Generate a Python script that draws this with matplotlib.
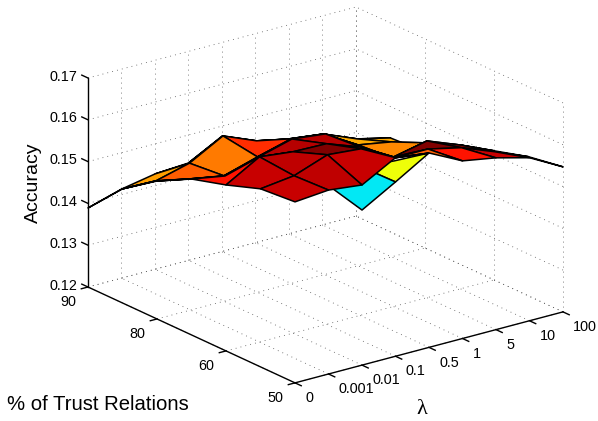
import numpy as np
import matplotlib
matplotlib.use('Agg')
import matplotlib.pyplot as plt
from mpl_toolkits.mplot3d import proj3d

plt.rcParams['font.family'] = ['Liberation Sans', 'DejaVu Sans']

lambda_labels = ['0', '0.001', '0.01', '0.1', '0.5', '1', '5', '10', '100']
trust_labels = ['50', '60', '80', '90']
z_ticks = [0.12, 0.13, 0.14, 0.15, 0.16, 0.17]

# accuracy, back row (90) first
accuracy = np.array([
    [.1389, .1413, .1428, .1433, .1476, .1443, .1427, .1417, .1384],
    [.1473, .1471, .1492, .1536, .1503, .1486, .1477, .1444, .1425],
    [.1530, .1514, .1500, .1524, .1546, .1536, .1489, .1475, .1430],
    [.1573, .1559, .1583, .1605, .1596, .1544, .1496, .1511, .1485],
    [.1597, .1643, .1634, .1632, .1603, .1558, .1575, .1544, .1509],
    [.1626, .1636, .1665, .1658, .1615, .1615, .1597, .1566, .1533],
    [.1633, .1640, .1631, .1675, .1665, .1625, .1611, .1590, .1547],
])
# colour level of each face in the jet map
face_levels = np.array([
    [.75, .74, .75, .75, .75, .75, .75, .75],
    [.80, .81, .78, .86, .80, .75, .73, .73],
    [.85, .85, .85, .85, .85, .765, .765, .78],
    [.89, .89, .95, .95, .95, .80, .985, .985],
    [.934, .945, 1.0, .90, .88, 1.0, .985, .95],
    [.934, .945, .934, .84, .805, .89, .934, .86],
])
# the low part behind the front edge
dip_accuracy = np.array([
    [.1593, .1615, .1608],
    [.1571, .1617, .1665],
])
dip_levels = np.array([[.355, .638, .638], [.355, .638, .638]])

W, H = 598, 421
fig = plt.figure(figsize=(W / 100, H / 100), dpi=100)
ax = fig.add_axes([.1, .1, .8, .8], projection='3d')
ax.set_proj_type('ortho')
ax.view_init(elev=20.5, azim=232.9)
ax.computed_zorder = False
ax.set_xlim(0, 8, view_margin=0)
ax.set_ylim(0, 3, view_margin=0)
ax.set_zlim(.12, .17, view_margin=0)
ax.set_axis_off()


def to_px(x, y, z):
    fig.canvas.draw()
    x2, y2, _ = proj3d.proj_transform(x, y, z, ax.get_proj())
    return ax.transData.transform((x2, y2))


def label(x, y, z, s, ha):
    p = to_px(x, y, z)
    fig.text(p[0] / W, p[1] / H, s, ha=ha, va='center', fontsize=10.4)


# put the box where it sits in the original
ax.set_box_aspect((335.8, 343, 223), zoom=1)
d = to_px(8, 0, .12)[0] - to_px(0, 3, .12)[0]
ax.set_box_aspect((335.8, 343, 223), zoom=475 / d)
p = to_px(0, 3, .12)
ax.set_position([.1 + (88 - p[0]) / W, .1 + (H - 287 - p[1]) / H, .8, .8])

# dotted grid
grid = dict(color='#555555', lw=.6, ls=(0, (1, 5)), zorder=1, clip_on=False)
for c in range(len(lambda_labels)):
    ax.plot([c, c], [0, 3], [.12, .12], **grid)
    ax.plot([c, c], [3, 3], [.12, .17], **grid)
for t in range(len(trust_labels)):
    ax.plot([0, 8], [t, t], [.12, .12], **grid)
    ax.plot([8, 8], [t, t], [.12, .17], **grid)
for z in z_ticks:
    ax.plot([0, 8], [3, 3], [z, z], **grid)
    ax.plot([8, 8], [0, 3], [z, z], **grid)

# axes and ticks
axis = dict(color='k', lw=1, zorder=2, clip_on=False)
ax.plot([0, 8], [0, 0], [.12, .12], **axis)
ax.plot([0, 0], [0, 3], [.12, .12], **axis)
ax.plot([0, 0], [3, 3], [.12, .17], **axis)
for c, s in enumerate(lambda_labels):
    ax.plot([c, c], [0, -.09], [.12, .12], **axis)
    label(c, -.15, .1175, s, 'left')
for t, s in enumerate(trust_labels):
    ax.plot([0, -.2], [t, t], [.12, .12], **axis)
    label(-.36, t, .1172, s, 'right')
for z in z_ticks:
    ax.plot([0, 0], [3, 3.09], [z, z], **axis)
    label(0, 3.16, z - .0009, '%.2f' % z, 'right')

rows = np.linspace(3, 0, 7)
X, Y = np.meshgrid(np.arange(9), rows)
dX, dY = np.meshgrid([2, 3, 4], rows[5:])

dip = ax.plot_surface(dX, dY, dip_accuracy, rstride=1, cstride=1, shade=False,
                      facecolors=plt.cm.jet(dip_levels),
                      edgecolor='k', linewidth=1.1, antialiased=True, zorder=3)
surf = ax.plot_surface(X, Y, accuracy, rstride=1, cstride=1, shade=False,
                       facecolors=plt.cm.jet(np.pad(face_levels, ((0, 1), (0, 1)), mode='edge')),
                       edgecolor='k', linewidth=1.1, antialiased=True, zorder=4)
dip.set_clip_on(False)
surf.set_clip_on(False)

fig.text(33 / W, 1 - 183 / H, 'Accuracy', rotation=90, ha='center', va='center', fontsize=14)
fig.text(98 / W, 1 - 404 / H, '% of Trust Relations', ha='center', va='center', fontsize=14.6)
fig.text(422 / W, 1 - 410 / H, '\u03bb', ha='center', va='center', fontsize=16,
         family=['Liberation Serif', 'DejaVu Serif'])

fig.savefig('out.png', dpi=100)
